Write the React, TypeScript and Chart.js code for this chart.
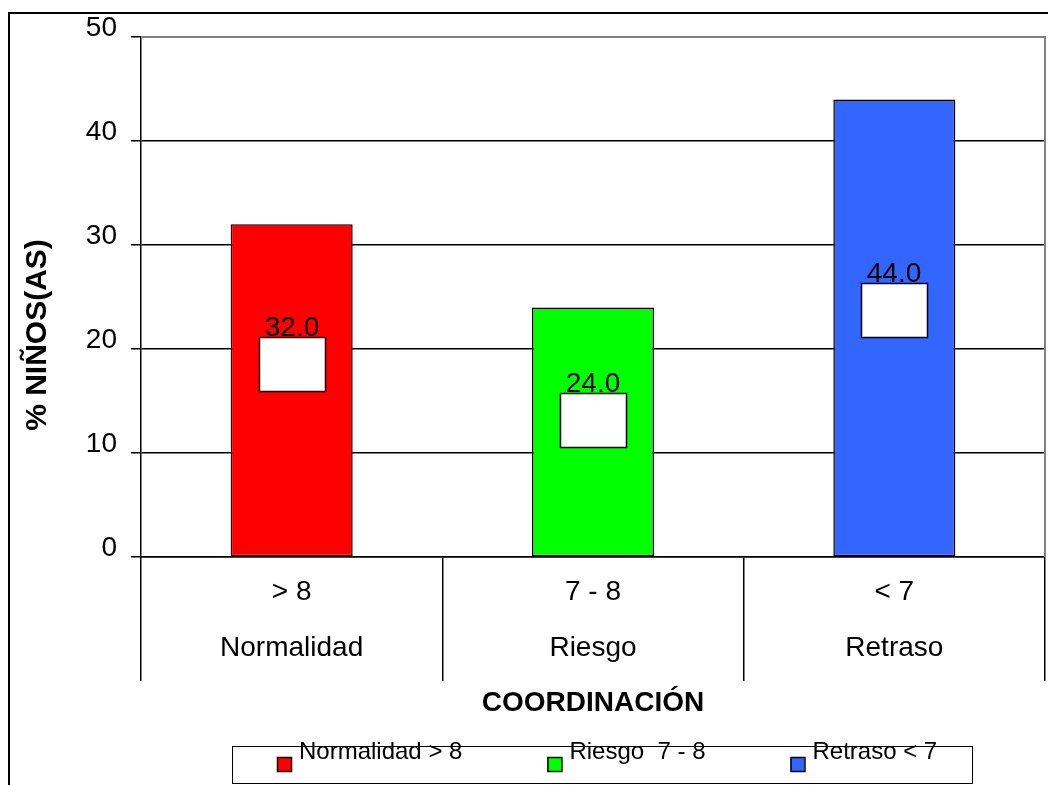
import React, { useEffect, useRef } from "react";
import { Chart, registerables } from "chart.js";

Chart.register(...registerables);

const CATEGORIES: string[][] = [
  ["> 8", "Normalidad"],
  ["7 - 8", "Riesgo"],
  ["< 7", "Retraso"],
];
const VALUES: number[] = [32.0, 24.0, 44.0];
const BAR_COLORS: string[] = ["#FF0000", "#00FF00", "#3366FF"];
const LEGEND_LABELS: string[] = ["Normalidad > 8", "Riesgo  7 - 8", "Retraso < 7"];
// level (in axis units) of the top of each value-label box
const LABEL_LEVELS: number[] = [21.2, 15.8, 26.3];
const Y_MIN = 0;
const Y_MAX = 50;
const Y_STEP = 10;
const X_TITLE = "COORDINACIÓN";
const Y_TITLE = "% NIÑOS(AS)";

const FONT = '"Liberation Sans", Arial, sans-serif';

const decoPlugin = {
  id: "deco",
  afterDraw(chart: any) {
    const { ctx, chartArea: ca, scales } = chart;
    const y = scales.y;
    ctx.save();

    // outer frame
    ctx.strokeStyle = "#000";
    ctx.lineWidth = 2;
    ctx.beginPath();
    ctx.moveTo(9, 785);
    ctx.lineTo(9, 13);
    ctx.lineTo(1048, 13);
    ctx.stroke();

    // plot frame (top & right, grey)
    ctx.strokeStyle = "#808080";
    ctx.lineWidth = 2;
    ctx.beginPath();
    ctx.moveTo(ca.left, ca.top);
    ctx.lineTo(ca.right, ca.top);
    ctx.lineTo(ca.right, ca.bottom);
    ctx.stroke();

    // value labels with white boxes
    const meta = chart.getDatasetMeta(0);
    meta.data.forEach((bar: any, i: number) => {
      const cx = Math.round(bar.x);
      const top = Math.round(y.getPixelForValue(LABEL_LEVELS[i]));
      ctx.fillStyle = "#fff";
      ctx.fillRect(cx - 33, top, 66, 54);
      ctx.strokeStyle = "#000";
      ctx.lineWidth = 1.5;
      ctx.strokeRect(cx - 33 + 0.5, top + 0.5, 66, 54);
      ctx.fillStyle = "#000";
      ctx.font = `28px ${FONT}`;
      ctx.textAlign = "center";
      ctx.textBaseline = "alphabetic";
      ctx.fillText(VALUES[i].toFixed(1), cx, top - 1);
    });

    // y title
    ctx.save();
    ctx.translate(38, 335);
    ctx.rotate(-Math.PI / 2);
    ctx.font = `bold 30px ${FONT}`;
    ctx.fillStyle = "#000";
    ctx.textAlign = "center";
    ctx.textBaseline = "middle";
    ctx.fillText(Y_TITLE, 0, 0);
    ctx.restore();

    // legend
    ctx.strokeStyle = "#000";
    ctx.lineWidth = 1;
    ctx.strokeRect(232.5, 746.5, 740, 37);
    ctx.font = `24px ${FONT}`;
    ctx.textAlign = "left";
    ctx.textBaseline = "middle";
    let xPos = 277;
    LEGEND_LABELS.forEach((lab, i) => {
      ctx.fillStyle = BAR_COLORS[i];
      ctx.fillRect(xPos, 757, 14, 14);
      ctx.strokeStyle = "#000";
      ctx.lineWidth = 1.5;
      ctx.strokeRect(xPos + 0.5, 757.5, 14, 14);
      ctx.fillStyle = "#000";
      const tx = xPos + 22;
      ctx.fillText(lab, tx, 752);
      xPos = tx + ctx.measureText(lab).width + 85;
    });

    ctx.restore();
  },
};

export default function App() {
  const ref = useRef<HTMLCanvasElement | null>(null);
  useEffect(() => {
    if (!ref.current) return;
    const chart = new Chart(ref.current, {
      type: "bar",
      data: {
        labels: CATEGORIES,
        datasets: [
          {
            data: VALUES,
            backgroundColor: BAR_COLORS,
            borderColor: "#000",
            borderWidth: 1.5,
            borderSkipped: false,
            barPercentage: 0.405,
            categoryPercentage: 1,
          },
        ],
      },
      options: {
        animation: false,
        responsive: false,
        devicePixelRatio: 1,
        layout: { padding: { left: 0, right: 3, top: 37, bottom: 0 } },
        plugins: {
          legend: { display: false },
          tooltip: { enabled: false },
        },
        scales: {
          x: {
            type: "category",
            offset: true,
            afterFit: (s: any) => {
              s.height = 228;
            },
            grid: {
              offset: true,
              drawOnChartArea: false,
              drawTicks: true,
              tickLength: 124,
              tickColor: "#000",
              color: "#000",
              lineWidth: 1.5,
            },
            border: { display: true, color: "#000", width: 1.5 },
            ticks: {
              color: "#000",
              font: { family: FONT, size: 28, lineHeight: 2 },
              padding: -117,
              maxRotation: 0,
              autoSkip: false,
            },
            title: {
              display: true,
              text: X_TITLE,
              color: "#000",
              font: { family: FONT, size: 28, weight: "bold" },
              padding: { top: 0, bottom: 65 },
            },
          },
          y: {
            min: Y_MIN,
            max: Y_MAX,
            afterFit: (s: any) => {
              s.width = 141;
            },
            grid: {
              color: (c: any) => (c.tick && c.tick.value === Y_MAX ? "#808080" : "#000"),
              lineWidth: 1.5,
              tickLength: 10,
              tickColor: "#000",
            },
            border: { display: true, color: "#000", width: 1.5 },
            ticks: {
              stepSize: Y_STEP,
              color: "#000",
              font: { family: FONT, size: 28 },
              padding: 14,
              labelOffset: -9,
            },
            title: { display: false },
          },
        },
      },
      plugins: [decoPlugin],
    } as any);
    return () => chart.destroy();
  }, []);

  return (
    <div style={{ position: "absolute", left: 0, top: 0, width: 1048, height: 785, background: "#fff" }}>
      <canvas ref={ref} width={1048} height={785} style={{ display: "block", width: 1048, height: 785 }} />
    </div>
  );
}
